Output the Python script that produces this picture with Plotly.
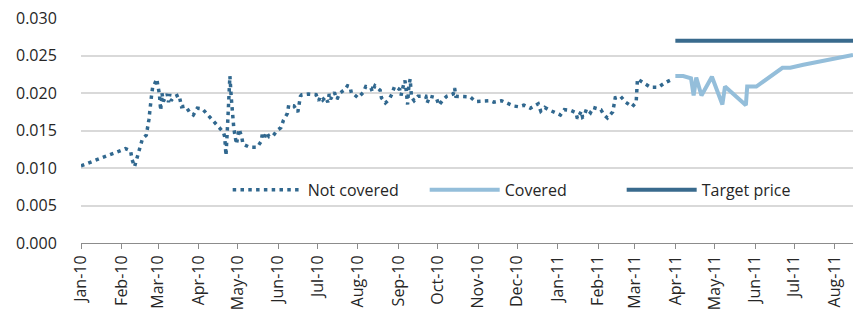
import plotly.graph_objects as go

# Uncovered exposure: price path, Jan-2010 to Mar-2011
nc_dates = [
    "2010-01-01", "2010-01-07", "2010-01-18", "2010-01-29", "2010-02-04", "2010-02-08",
    "2010-02-09", "2010-02-11", "2010-02-12", "2010-02-15", "2010-02-17", "2010-02-20",
    "2010-02-22", "2010-02-24", "2010-02-25", "2010-02-26", "2010-02-28", "2010-03-01",
    "2010-03-02", "2010-03-03", "2010-03-04", "2010-03-05", "2010-03-08", "2010-03-09",
    "2010-03-10", "2010-03-11", "2010-03-13", "2010-03-17", "2010-03-18", "2010-03-19",
    "2010-03-22", "2010-03-25", "2010-03-28", "2010-03-31", "2010-04-04", "2010-04-08",
    "2010-04-12", "2010-04-16", "2010-04-20", "2010-04-21", "2010-04-22", "2010-04-23",
    "2010-04-25", "2010-04-26", "2010-04-27", "2010-04-28", "2010-04-30", "2010-05-01",
    "2010-05-02", "2010-05-04", "2010-05-05", "2010-05-10", "2010-05-16", "2010-05-19",
    "2010-05-20", "2010-05-21", "2010-05-23", "2010-05-25", "2010-05-28", "2010-05-31",
    "2010-06-03", "2010-06-05", "2010-06-08", "2010-06-09", "2010-06-13", "2010-06-16",
    "2010-06-17", "2010-06-18", "2010-06-19", "2010-06-24", "2010-06-30", "2010-07-02",
    "2010-07-03", "2010-07-05", "2010-07-07", "2010-07-09", "2010-07-10", "2010-07-11",
    "2010-07-14", "2010-07-16", "2010-07-18", "2010-07-22", "2010-07-24", "2010-07-26",
    "2010-07-27", "2010-07-28", "2010-08-01", "2010-08-05", "2010-08-07", "2010-08-11",
    "2010-08-12", "2010-08-14", "2010-08-18", "2010-08-19", "2010-08-22", "2010-08-25",
    "2010-08-27", "2010-08-29", "2010-09-02", "2010-09-03", "2010-09-05", "2010-09-06",
    "2010-09-07", "2010-09-08", "2010-09-09", "2010-09-10", "2010-09-11", "2010-09-13",
    "2010-09-16", "2010-09-22", "2010-09-23", "2010-09-25", "2010-09-30", "2010-10-02",
    "2010-10-05", "2010-10-08", "2010-10-13", "2010-10-14", "2010-10-15", "2010-10-21",
    "2010-10-26", "2010-10-30", "2010-11-05", "2010-11-10", "2010-11-13", "2010-11-19",
    "2010-11-23", "2010-11-28", "2010-12-02", "2010-12-06", "2010-12-11", "2010-12-16",
    "2010-12-17", "2010-12-19", "2010-12-22", "2010-12-25", "2010-12-30", "2011-01-03",
    "2011-01-06", "2011-01-11", "2011-01-15", "2011-01-16", "2011-01-19", "2011-01-20",
    "2011-01-21", "2011-01-23", "2011-01-26", "2011-01-28", "2011-02-03", "2011-02-05",
    "2011-02-08", "2011-02-12", "2011-02-13", "2011-02-14", "2011-02-18", "2011-02-22",
    "2011-02-27", "2011-03-02", "2011-03-03", "2011-03-08", "2011-03-13", "2011-03-19",
    "2011-03-24", "2011-03-30",
]
nc_values = [
    0.0103, 0.0107, 0.0115, 0.0122, 0.0126, 0.0123,
    0.0112, 0.0102, 0.0108, 0.0129, 0.0139, 0.0144,
    0.0165, 0.0197, 0.0210, 0.0211, 0.0219, 0.0209,
    0.0199, 0.0177, 0.0200, 0.0189, 0.0199, 0.0188,
    0.0199, 0.0190, 0.0195, 0.0198, 0.0190, 0.0182,
    0.0183, 0.0175, 0.0171, 0.0180, 0.0179, 0.0171,
    0.0163, 0.0156, 0.0148, 0.0142, 0.0117, 0.0150,
    0.0223, 0.0195, 0.0165, 0.0153, 0.0132, 0.0144,
    0.0152, 0.0142, 0.0132, 0.0128, 0.0128, 0.0136,
    0.0148, 0.0138, 0.0148, 0.0142, 0.0143, 0.0150,
    0.0154, 0.0164, 0.0173, 0.0184, 0.0183, 0.0175,
    0.0185, 0.0196, 0.0198, 0.0199, 0.0198, 0.0190,
    0.0195, 0.0191, 0.0195, 0.0188, 0.0199, 0.0192,
    0.0201, 0.0192, 0.0200, 0.0205, 0.0210, 0.0209,
    0.0200, 0.0200, 0.0194, 0.0201, 0.0209, 0.0207,
    0.0202, 0.0210, 0.0204, 0.0194, 0.0187, 0.0192,
    0.0199, 0.0209, 0.0205, 0.0197, 0.0212, 0.0217,
    0.0203, 0.0185, 0.0210, 0.0219, 0.0195, 0.0190,
    0.0196, 0.0196, 0.0187, 0.0196, 0.0194, 0.0184,
    0.0191, 0.0196, 0.0199, 0.0207, 0.0196, 0.0195,
    0.0195, 0.0189, 0.0189, 0.0190, 0.0188, 0.0190,
    0.0187, 0.0183, 0.0182, 0.0184, 0.0180, 0.0184,
    0.0186, 0.0176, 0.0181, 0.0178, 0.0174, 0.0171,
    0.0178, 0.0177, 0.0174, 0.0166, 0.0176, 0.0168,
    0.0169, 0.0179, 0.0174, 0.0181, 0.0178, 0.0172,
    0.0167, 0.0175, 0.0184, 0.0194, 0.0196, 0.0188,
    0.0182, 0.0188, 0.0219, 0.0213, 0.0208, 0.0208,
    0.0214, 0.0219,
]

# Covered exposure: Apr-2011 onwards
cov_dates = [
    "2011-04-01", "2011-04-07", "2011-04-13", "2011-04-15", "2011-04-17", "2011-04-21",
    "2011-04-29", "2011-05-07", "2011-05-09", "2011-05-25", "2011-05-26", "2011-06-02",
    "2011-06-22", "2011-06-28", "2011-07-08", "2011-08-15",
]
cov_values = [
    0.0223, 0.0223, 0.0220, 0.0197, 0.0221, 0.0197,
    0.0222, 0.0185, 0.0209, 0.0184, 0.0209, 0.0209,
    0.0234, 0.0234, 0.0238, 0.0251,
]

# Target price level
target_dates = ["2011-04-01", "2011-08-15"]
target_values = [0.027, 0.027]

FONT = "Open Sans"
TEXT = "#262626"

fig = go.Figure()
fig.add_trace(go.Scatter(
    x=nc_dates, y=nc_values, mode="lines", name="Not covered",
    line=dict(color="#31688F", width=3.5, dash="3.5px,4.3px"),
))
fig.add_trace(go.Scatter(
    x=cov_dates, y=cov_values, mode="lines", name="Covered",
    line=dict(color="#94BEDA", width=4),
))
fig.add_trace(go.Scatter(
    x=target_dates, y=target_values, mode="lines", name="Target price",
    line=dict(color="#396A8D", width=4),
))

fig.update_layout(
    width=856, height=321,
    margin=dict(l=81, r=3, t=18, b=78),
    paper_bgcolor="white", plot_bgcolor="white",
    font=dict(family=FONT, size=16, color=TEXT),
    legend=dict(
        orientation="h", x=0.19, xanchor="left", y=0.236, yanchor="middle",
        bgcolor="rgba(0,0,0,0)", font=dict(family=FONT, size=16, color=TEXT),
        itemwidth=70, entrywidth=112, traceorder="normal",
    ),
    xaxis=dict(
        type="date", range=["2010-01-01", "2011-08-15"],
        tick0="2010-01-01", dtick="M1", tickformat="%b-%y", tickangle=-90,
        showgrid=False, showline=True, linecolor="#8C8C8C", linewidth=1,
        ticks="outside", ticklen=5, tickcolor="#8C8C8C", tickwidth=1,
        tickfont=dict(family=FONT, size=16, color=TEXT),
        zeroline=False,
    ),
    yaxis=dict(
        range=[0, 0.03005], dtick=0.005, tick0=0, tickformat=".3f",
        showgrid=True, gridcolor="#D9D9D9", gridwidth=1.5,
        showline=False, zeroline=False,
        # invisible ticks push the labels away from the plot edge
        ticks="outside", ticklen=20, tickcolor="rgba(0,0,0,0)",
        tickfont=dict(family=FONT, size=16, color=TEXT),
    ),
)

fig.write_html("out.html")
